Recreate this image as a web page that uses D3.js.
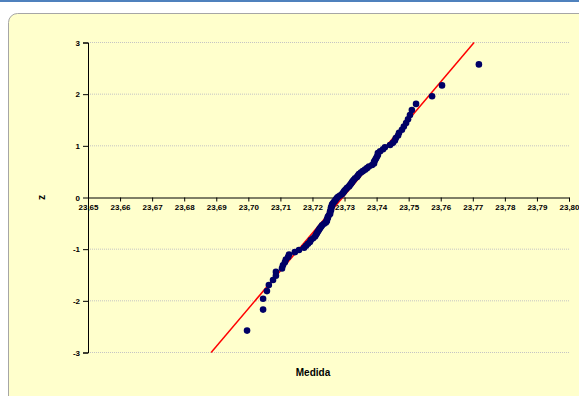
<!DOCTYPE html>
<html>
<head>
<meta charset="utf-8">
<script src="https://cdn.jsdelivr.net/npm/d3@7"></script>
<style>
  body { margin: 0; background: #fff; }
  svg { display: block; font-family: "Liberation Sans", Arial, sans-serif; }
</style>
</head>
<body>
<div id="chart"></div>
<script>
// measured values, sorted (Medida)
var medida = [
  23.6996, 23.7046, 23.7046, 23.7058, 23.7064, 23.7077, 23.7086, 23.7086, 23.7105, 23.7108,
  23.7114, 23.7117, 23.7124, 23.7127, 23.7145, 23.7158, 23.7174, 23.7180, 23.7186, 23.7192,
  23.7195, 23.7202, 23.7208, 23.7211, 23.7214, 23.7217, 23.7220, 23.7223, 23.7227, 23.7230,
  23.7236, 23.7242, 23.7245, 23.7245, 23.7248, 23.7248, 23.7251, 23.7255, 23.7255, 23.7255,
  23.7258, 23.7258, 23.7258, 23.7261, 23.7261, 23.7264, 23.7267, 23.7270, 23.7273, 23.7276,
  23.7280, 23.7286, 23.7292, 23.7295, 23.7298, 23.7301, 23.7305, 23.7308, 23.7314, 23.7317,
  23.7320, 23.7323, 23.7326, 23.7329, 23.7333, 23.7339, 23.7342, 23.7345, 23.7351, 23.7357,
  23.7364, 23.7370, 23.7376, 23.7386, 23.7392, 23.7392, 23.7395, 23.7398, 23.7401, 23.7404,
  23.7404, 23.7411, 23.7420, 23.7426, 23.7442, 23.7451, 23.7457, 23.7460, 23.7467, 23.7470,
  23.7479, 23.7485, 23.7492, 23.7498, 23.7504, 23.7510, 23.7523, 23.7573, 23.7604, 23.7719
];
// normal scores (z)
var zScore = [
  -2.576, -2.170, -1.960, -1.812, -1.695, -1.598, -1.514, -1.440, -1.372, -1.311,
  -1.254, -1.200, -1.150, -1.103, -1.058, -1.015, -0.974, -0.935, -0.896, -0.860,
  -0.824, -0.789, -0.755, -0.722, -0.690, -0.659, -0.628, -0.598, -0.568, -0.539,
  -0.510, -0.482, -0.454, -0.426, -0.399, -0.372, -0.345, -0.319, -0.292, -0.266,
  -0.240, -0.215, -0.189, -0.164, -0.138, -0.113, -0.088, -0.063, -0.038, -0.013,
  0.013, 0.038, 0.063, 0.088, 0.113, 0.138, 0.164, 0.189, 0.215, 0.240,
  0.266, 0.292, 0.319, 0.345, 0.372, 0.399, 0.426, 0.454, 0.482, 0.510,
  0.539, 0.568, 0.598, 0.628, 0.659, 0.690, 0.722, 0.755, 0.789, 0.824,
  0.860, 0.896, 0.935, 0.974, 1.015, 1.058, 1.103, 1.150, 1.200, 1.254,
  1.311, 1.372, 1.440, 1.514, 1.598, 1.695, 1.812, 1.960, 2.170, 2.576
];
// fitted normal line end points [medida, z]
var fitLine = [[23.6884, -3], [23.7704, 3]];

var xTicks = [23.65, 23.66, 23.67, 23.68, 23.69, 23.70, 23.71, 23.72,
              23.73, 23.74, 23.75, 23.76, 23.77, 23.78, 23.79, 23.80];
var yTicks = [-3, -2, -1, 0, 1, 2, 3];

var W = 579, H = 396;
var svg = d3.select('#chart').append('svg').attr('width', W).attr('height', H);

// top blue strip
svg.append('rect').attr('x', 0).attr('y', 0).attr('width', W).attr('height', 2).attr('fill', '#4f81bd');

// chart panel
svg.append('rect')
  .attr('x', 8.5).attr('y', 13.5).attr('width', 620).attr('height', 420)
  .attr('rx', 9).attr('ry', 9)
  .attr('fill', '#ffffcc').attr('stroke', '#a6a6a6').attr('stroke-width', 1);

var x = d3.scaleLinear().domain([23.65, 23.80]).range([88, 569]);
var y = d3.scaleLinear().domain([-3, 3]).range([352.5, 42.5]);

// gridlines
svg.append('g').selectAll('line').data(yTicks.filter(function(d){ return d !== 0; }))
  .enter().append('line')
    .attr('x1', x(23.65)).attr('x2', x(23.80))
    .attr('y1', function(d){ return y(d); }).attr('y2', function(d){ return y(d); })
    .attr('stroke', '#c4c4c4').attr('stroke-width', 1).attr('stroke-dasharray', '1,1');

// y axis
var yAxis = d3.axisLeft(y).tickValues(yTicks).tickSize(5).tickPadding(3)
  .tickFormat(function(d){ return String(d); });
var gy = svg.append('g').attr('transform', 'translate(' + x(23.65) + ',0)').call(yAxis);
gy.select('.domain').attr('stroke', '#000');
gy.selectAll('.tick line').attr('stroke', '#000');
gy.selectAll('text').attr('font-size', 8).attr('font-weight', 'bold').attr('fill', '#000')
  .attr('font-family', '"Liberation Sans", Arial, sans-serif');

// x axis at z = 0
var xAxis = d3.axisBottom(x).tickValues(xTicks).tickSize(4).tickPadding(3)
  .tickFormat(function(d){ return d.toFixed(2).replace('.', ','); });
var gx = svg.append('g').attr('transform', 'translate(0,' + y(0) + ')').call(xAxis);
gx.select('.domain').attr('stroke', '#000');
gx.selectAll('.tick line').attr('stroke', '#000');
gx.selectAll('text').attr('font-size', 8).attr('font-weight', 'bold').attr('fill', '#000')
  .attr('font-family', '"Liberation Sans", Arial, sans-serif');

// fitted line
svg.append('line')
  .attr('x1', x(fitLine[0][0])).attr('y1', y(fitLine[0][1]))
  .attr('x2', x(fitLine[1][0])).attr('y2', y(fitLine[1][1]))
  .attr('stroke', '#ff0000').attr('stroke-width', 1.5);

// points
svg.append('g').selectAll('circle').data(medida)
  .enter().append('circle')
    .attr('cx', function(d){ return x(d); })
    .attr('cy', function(d, i){ return y(zScore[i]); })
    .attr('r', 3.3)
    .attr('fill', '#000066');

// axis titles
svg.append('text').attr('x', 313).attr('y', 376).attr('text-anchor', 'middle')
  .attr('font-size', 10).attr('font-weight', 'bold').text('Medida');
svg.append('text').attr('transform', 'translate(45,' + y(0) + ') rotate(-90)')
  .attr('text-anchor', 'middle').attr('font-size', 10).attr('font-weight', 'bold').text('z');
</script>
</body>
</html>
